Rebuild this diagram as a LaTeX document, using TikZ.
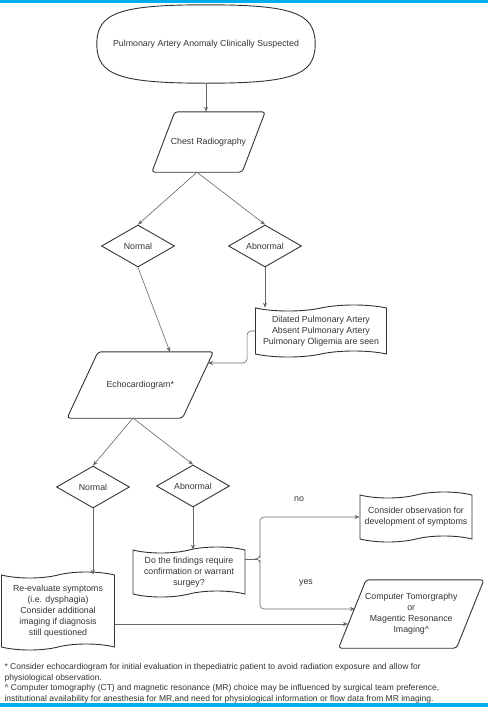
\documentclass[tikz,border=0pt]{standalone}
\usepackage{fontspec}
\setmainfont{Liberation Sans}
\usetikzlibrary{shapes.geometric,shapes.symbols,arrows.meta}
\definecolor{barblue}{HTML}{00AEEF}
\definecolor{shapeedge}{HTML}{333333}
\definecolor{linegray}{HTML}{666666}

\begin{document}
\begin{tikzpicture}[x=1pt,y=-1pt,
  every node/.style={font=\fontsize{8.8}{11}\selectfont,text=black!80,align=center},
  outline/.style={draw=shapeedge,line width=0.9pt},
  startnode/.style={minimum width=218pt,minimum height=78pt},
  iobody/.style={inner sep=0pt},
  slanted/.style={outline,rounded corners=3pt},
  choice/.style={outline,diamond,aspect=1.75,minimum width=73pt,minimum height=42pt,inner sep=0pt},
  docnode/.style={outline,tape,tape bend height=6pt},
  wire/.style={draw=linegray,line width=0.6pt,-{Stealth[length=5pt,width=4pt]}},
  plainwire/.style={draw=linegray,line width=0.6pt}]
\useasboundingbox (0,0) rectangle (488,707);
% page bars
\fill[barblue] (0,0) rectangle (488,3);
\fill[barblue] (0,703) rectangle (488,707);
% start
\node[startnode] (start) at (206,44) {Pulmonary Artery Anomaly Clinically Suspected};
\draw[outline] (start.west) .. controls +(0,-31) and +(-87,0) .. (start.north)
  .. controls +(87,0) and +(0,-31) .. (start.east)
  .. controls +(0,31) and +(87,0) .. (start.south)
  .. controls +(-87,0) and +(0,31) .. (start.west) -- cycle;
% chest radiography
\node[iobody,minimum width=90pt,minimum height=60pt] (chest) at (208.5,142) {Chest Radiography};
\draw[slanted] ([xshift=11.5pt]chest.north west) -- ([xshift=11.5pt]chest.north east)
  -- ([xshift=-11.5pt]chest.south east) -- ([xshift=-11.5pt]chest.south west) -- cycle;
\coordinate (chestfoot) at ([xshift=-11.5pt]chest.south);
\node[choice] (norm1) at (138,246) {Normal};
\node[choice] (abn1) at (265,246) {Abnormal};
\node[docnode,minimum width=131pt,minimum height=52pt] (dilated) at (321,331) {Dilated Pulmonary Artery\\Absent Pulmonary Artery\\Pulmonary Oligemia are seen};
% echocardiogram
\node[iobody,minimum width=115pt,minimum height=66pt] (echo) at (140.25,385) {Echocardiogram*};
\draw[slanted] ([xshift=15.5pt]echo.north west) -- ([xshift=15.5pt]echo.north east)
  -- ([xshift=-15.5pt]echo.south east) -- ([xshift=-15.5pt]echo.south west) -- cycle;
\coordinate (echotop) at (170,352);
\coordinate (echoside) at (208,363);
\coordinate (echofoot) at (133,418);
\node[choice] (norm2) at (93,487) {Normal};
\node[choice] (abn2) at (193,486) {Abnormal};
\node[docnode,minimum width=113pt,minimum height=78pt] (reeval) at (58,611) {Re-evaluate symptoms\\(i.e. dysphagia)\\Consider additional\\imaging if diagnosis\\still questioned};
\node[docnode,minimum width=112pt,minimum height=50pt] (findings) at (189,572) {Do the findings require\\confirmation or warrant\\surgey?};
\node[docnode,minimum width=112pt,minimum height=50pt] (observe) at (416,517) {Consider observation for\\development of symptoms};
% imaging
\node[iobody,minimum width=117.5pt,minimum height=68pt] (imaging) at (411.25,614) {Computer Tomorgraphy\\or\\Magentic Resonance\\Imaging\textasciicircum};
\draw[slanted] ([xshift=13.75pt]imaging.north west) -- ([xshift=13.75pt]imaging.north east)
  -- ([xshift=-13.75pt]imaging.south east) -- ([xshift=-13.75pt]imaging.south west) -- cycle;
\coordinate (imgyes) at (355,609);
\coordinate (imgside) at (348,624);
\node (lblno) at (299,499) {no};
\node (lblyes) at (306,583) {yes};
% connectors
\draw[wire] (start.south) -- (start.south |- chest.north);
\draw[wire] (chestfoot) -- (norm1.north);
\draw[wire] (chestfoot) -- (abn1.north);
\draw[wire] (norm1.south) -- (echotop);
\draw[wire] (abn1.south) -- (abn1.south |- dilated.north);
\draw[wire,rounded corners=4pt] (dilated.west) -- ++(-8,0) |- (echoside);
\draw[wire] (echofoot) -- (norm2.north);
\draw[wire] (echofoot) -- (abn2.north);
\draw[wire] (norm2.south) -- (norm2.south |- reeval.north);
\draw[wire] (abn2.south) -- (abn2.south |- findings.north);
\coordinate (fork) at (257,559);
\draw[plainwire] (findings.east |- fork) -- (fork);
\draw[wire,rounded corners=4pt] (fork) -| ++(3,-5) |- (observe.west);
\draw[wire,rounded corners=4pt] (fork) -| ++(3,5) |- (imgyes);
\draw[wire] (imgside -| reeval.east) -- (imgside);
% footnotes
\node[anchor=north west,align=left,font=\fontsize{8.5}{10.6}\selectfont] (notes) at (1,660) {* Consider echocardiogram for initial evaluation in thepediatric patient to avoid radiation exposure and allow for\\physiological observation.\\\textasciicircum{} Computer tomography (CT) and magnetic resonance (MR) choice may be influenced by surgical team preference,\\institutional availability for anesthesia for MR,and need for physiological information or flow data from MR imaging.};
\end{tikzpicture}
\end{document}
